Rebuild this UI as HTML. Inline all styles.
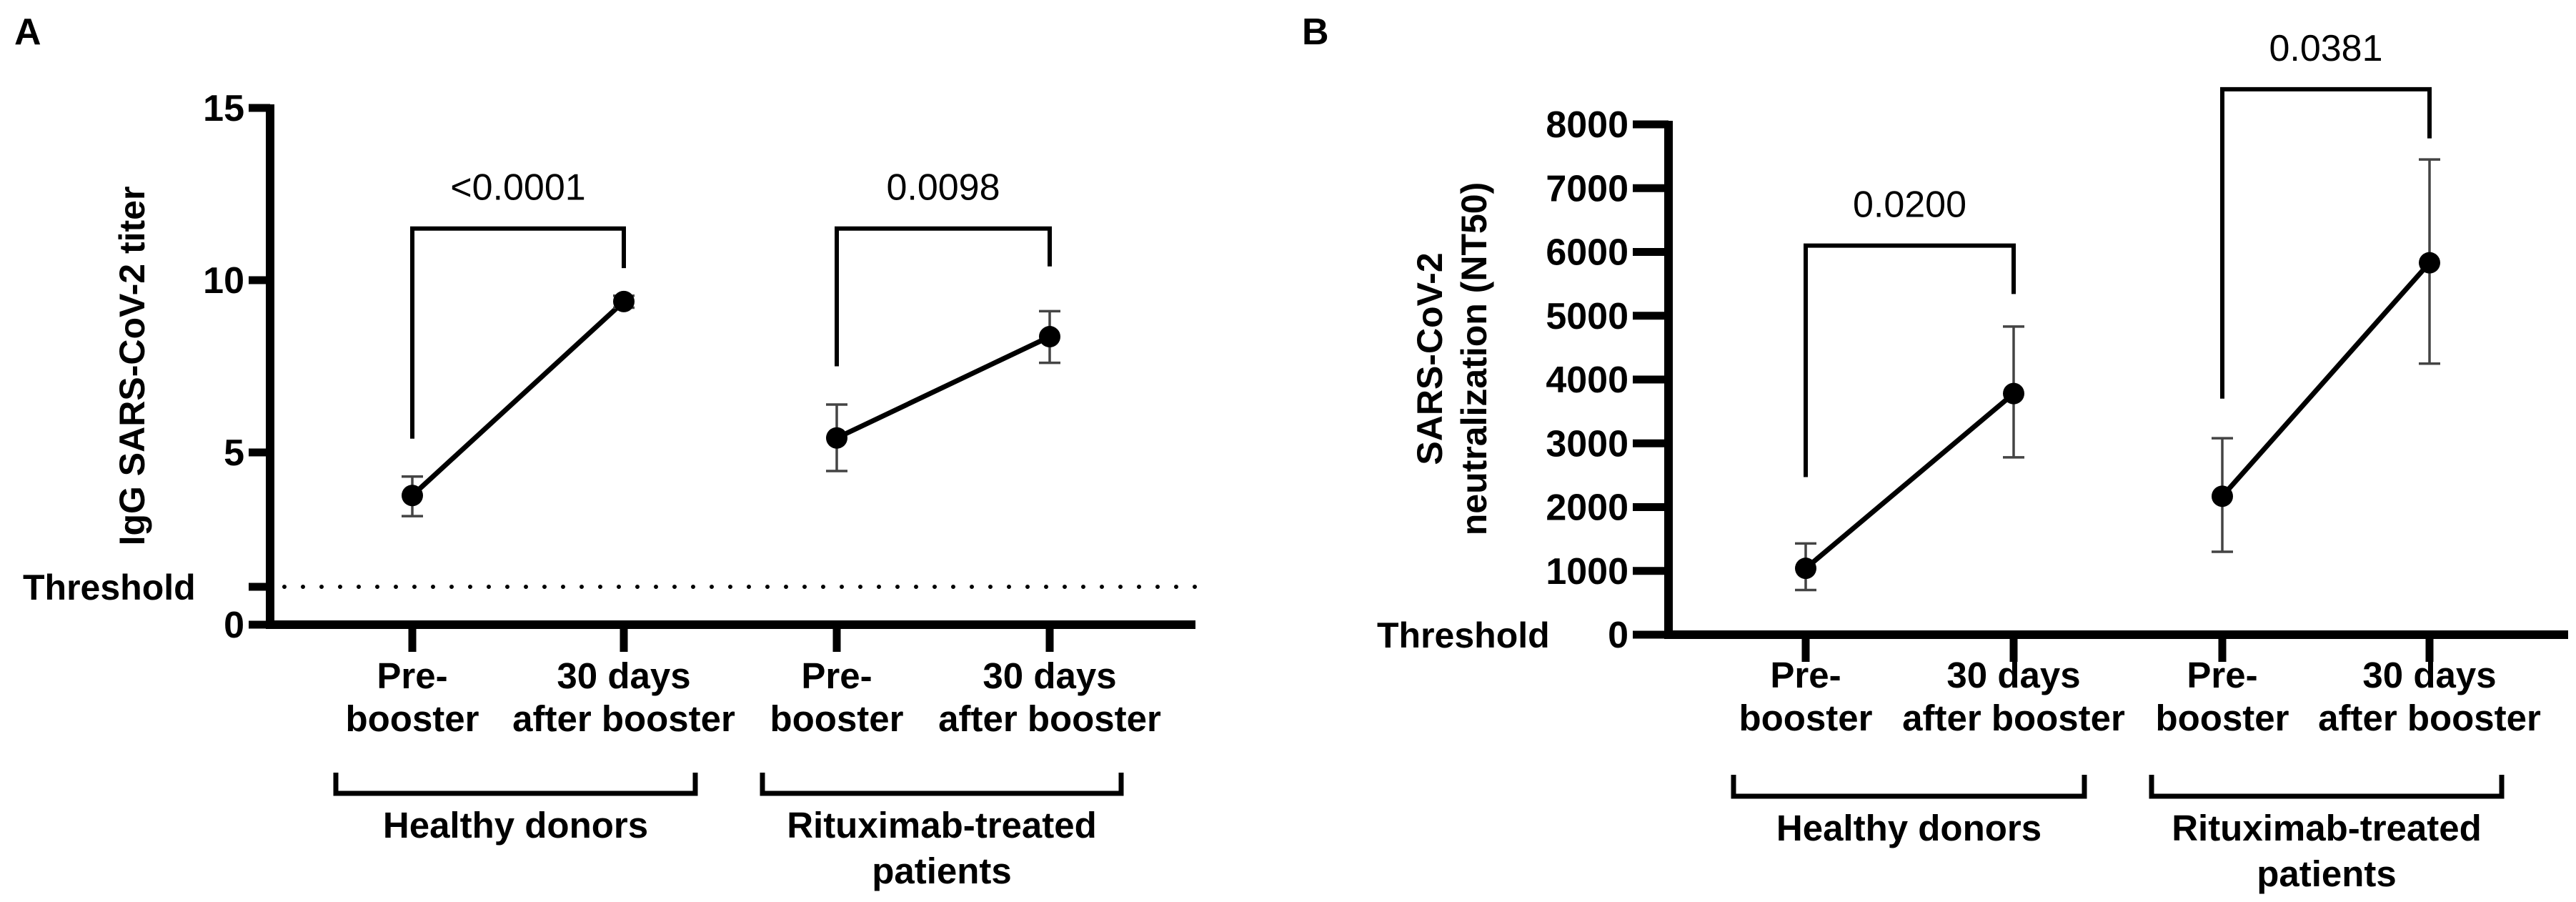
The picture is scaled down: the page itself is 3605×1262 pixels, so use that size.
<!DOCTYPE html>
<html><head><meta charset="utf-8"><style>
html,body{margin:0;padding:0;background:#fff;}
svg{display:block;font-family:"Liberation Sans",sans-serif;}
</style></head><body>
<svg id="fig" width="3605" height="1262" viewBox="0 0 3605 1262" xmlns="http://www.w3.org/2000/svg"></svg>
<script>
// Panel A data
const catsA = ["HD pre", "HD post", "RTX pre", "RTX post"];
const meanA = [3.75, 9.38, 5.42, 8.36];
const lowA = [3.15, 9.2, 4.46, 7.6];
const highA = [4.3, 9.55, 6.39, 9.1];
const ticksA = [0, 5, 10, 15];
const thrA = 1.1;
const pA = ["<0.0001", "0.0098"];
// Panel B data
const catsB = ["HD pre", "HD post", "RTX pre", "RTX post"];
const meanB = [1040, 3780, 2170, 5830];
const lowB = [700, 2780, 1300, 4250];
const highB = [1430, 4830, 3080, 7450];
const ticksB = [0, 1000, 2000, 3000, 4000, 5000, 6000, 7000, 8000];
const thrB = 0;
const pB = ["0.0200", "0.0381"];

const NS = "http://www.w3.org/2000/svg";
const svg = document.getElementById("fig");
function mk(tag, attrs, parent, text) {
  const e = document.createElementNS(NS, tag);
  for (const k in attrs) e.setAttribute(k, attrs[k]);
  if (text !== undefined) e.textContent = text;
  (parent || svg).appendChild(e);
  return e;
}

function panel(cfg) {
  const g = mk("g", {});
  
  
  const y = v => cfg.y0 - (v - cfg.min) / (cfg.max - cfg.min) * (cfg.y0 - cfg.yTop);
  const x = i => cfg.xs[i];
  const L = mk("text", {x: cfg.letterX, y: 62, "font-size": 52, "font-weight": "bold"}, g, cfg.letter);
  
  
  const th = mk("line", {x1: cfg.axX + 20, x2: cfg.axEnd, y1: y(cfg.thr) - (cfg.thr === 0 ? 1 : 0), y2: y(cfg.thr) - (cfg.thr === 0 ? 1 : 0), stroke: cfg.thr === 0 ? "#888" : "#000", "stroke-width": 6, "stroke-dasharray": "0 26", "stroke-linecap": "round"}, g);
  
  
  const ya = mk("line", {x1: cfg.axX, x2: cfg.axX, y1: y(cfg.max) - 5, y2: cfg.y0 + 5, stroke: "#000", "stroke-width": 12}, g);
  
  
  const xa = mk("line", {x1: cfg.axX - 6, x2: cfg.axEnd, y1: cfg.y0, y2: cfg.y0, stroke: "#000", "stroke-width": 12}, g);
  
  
  cfg.ticks.forEach(t => {
    const tl = mk("line", {x1: cfg.axX - cfg.tickLen, x2: cfg.axX, y1: y(t), y2: y(t), stroke: "#000", "stroke-width": 11}, g);
    
    
    const tx = mk("text", {x: cfg.axX - cfg.tickLen - 6, y: y(t) + 18, "font-size": 52, "font-weight": "bold", "text-anchor": "end"}, g, String(t));
    
    
  });
  if (cfg.thr !== 0) {
    const tt = mk("line", {x1: cfg.axX - cfg.tickLen, x2: cfg.axX, y1: y(cfg.thr), y2: y(cfg.thr), stroke: "#000", "stroke-width": 11}, g);
    
    
  }
  const thl = mk("text", {x: cfg.thrLabelX, y: y(cfg.thr) + 18, "font-size": 50, "font-weight": "bold"}, g, "Threshold");
  
  
  const yt = mk("text", {transform: `translate(${cfg.titleX},${cfg.titleY}) rotate(-90)`, "font-size": 50, "font-weight": "bold", "text-anchor": "middle"}, g);
  
  
  cfg.title.forEach((s, i) => { mk("tspan", {x: 0, dy: i === 0 ? 0 : 62}, yt, s); });
  cfg.xs.forEach((xx, i) => {
    const tk = mk("line", {x1: xx, x2: xx, y1: cfg.y0, y2: cfg.y0 + 38, stroke: "#000", "stroke-width": 11}, g);
    
    
    const lines = i % 2 === 0 ? ["Pre-", "booster"] : ["30 days", "after booster"];
    const tx = mk("text", {x: xx, y: cfg.lab1, "font-size": 51, "font-weight": "bold", "text-anchor": "middle"}, g);
    
    
    mk("tspan", {x: xx, dy: 0}, tx, lines[0]);
    mk("tspan", {x: xx, dy: 60}, tx, lines[1]);
  });
  cfg.groups.forEach((gr, k) => {
    const p = mk("path", {d: `M${gr[0]},${cfg.gTop} V${cfg.gBot} H${gr[1]} V${cfg.gTop}`, fill: "none", stroke: "#000", "stroke-width": 7}, g);
    
    
    const c = (gr[0] + gr[1]) / 2;
    const names = k === 0 ? ["Healthy donors"] : ["Rituximab-treated", "patients"];
    const t = mk("text", {x: c, y: cfg.gBot + 62, "font-size": 51, "font-weight": "bold", "text-anchor": "middle"}, g);
    
    
    names.forEach((s, j) => mk("tspan", {x: c, dy: j === 0 ? 0 : 64}, t, s));
  });
  cfg.sig.forEach((s, k) => {
    const a = 2 * k, b = 2 * k + 1;
    const p = mk("path", {d: `M${x(a)},${y(s.left)} V${y(s.top)} H${x(b)} V${y(s.right)}`, fill: "none", stroke: "#000", "stroke-width": 6}, g);
    
    
    const t = mk("text", {x: (x(a) + x(b)) / 2, y: y(s.top) - 40, "font-size": 52, "text-anchor": "middle"}, g, cfg.p[k]);
    
    
  });
  for (let k = 0; k < 2; k++) {
    const a = 2 * k, b = 2 * k + 1;
    const ln = mk("line", {x1: x(a), y1: y(cfg.mean[a]), x2: x(b), y2: y(cfg.mean[b]), stroke: "#000", "stroke-width": 7}, g);
    
    
  }
  cfg.mean.forEach((m, i) => {
    const eb = mk("path", {d: `M${x(i) - 15},${y(cfg.high[i])} H${x(i) + 15} M${x(i)},${y(cfg.high[i])} V${y(cfg.low[i])} M${x(i) - 15},${y(cfg.low[i])} H${x(i) + 15}`, stroke: "#444", "stroke-width": 3.5, fill: "none"}, g);
    
    
    const pt = mk("ellipse", {cx: x(i), cy: y(m), rx: 15, ry: 15, fill: "#000"}, g);
    
    
  });
}

panel({
  name: "panel-a", letter: "A", letterX: 20, min: 0, max: 15, y0: 874, yTop: 151,
  axX: 378, axEnd: 1673, tickLen: 30, ticks: ticksA, thr: thrA, thrLabelX: 32,
  title: ["IgG SARS-CoV-2 titer"], titleX: 202, titleY: 512,
  xs: [577, 873, 1171, 1469], mean: meanA, low: lowA, high: highA, p: pA,
  lab1: 963, gTop: 1081, gBot: 1110, groups: [[470, 973], [1067, 1569]],
  sig: [{left: 5.4, top: 11.5, right: 10.35}, {left: 7.5, top: 11.5, right: 10.4}]
});
panel({
  name: "panel-b", letter: "B", letterX: 1822, min: 0, max: 8000, y0: 888, yTop: 174,
  axX: 2335, axEnd: 3594, tickLen: 50, ticks: ticksB, thr: thrB, thrLabelX: 1927,
  title: ["SARS-CoV-2", "neutralization (NT50)"], titleX: 2018, titleY: 502,
  xs: [2527, 2818, 3110, 3400], mean: meanB, low: lowB, high: highB, p: pB,
  lab1: 962, gTop: 1084, gBot: 1114, groups: [[2426, 2917], [3011, 3501]],
  sig: [{left: 2470, top: 6100, right: 5340}, {left: 3700, top: 8550, right: 7780}]
});
</script>
</body></html>
